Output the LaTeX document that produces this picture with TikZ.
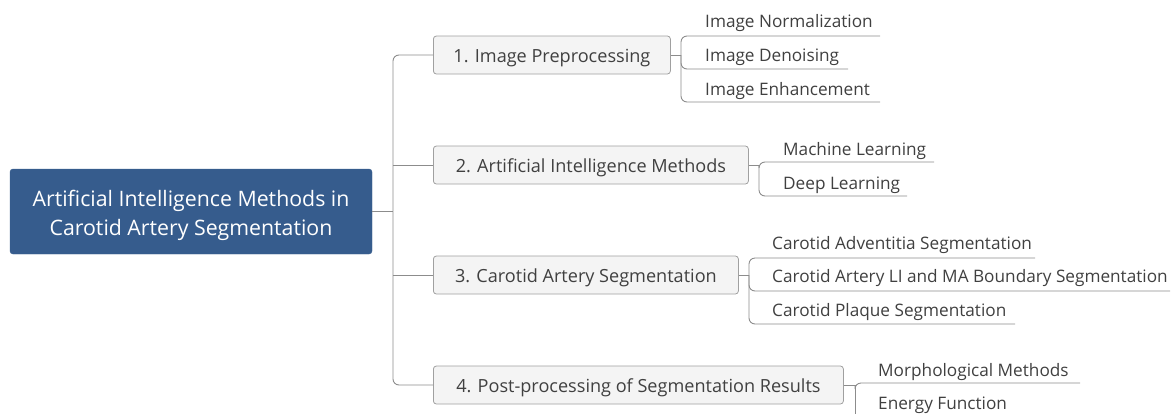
\documentclass[tikz,border=0pt]{standalone}
\usepackage{fontspec}
\setmainfont{Open Sans}
\definecolor{rootblue}{HTML}{365C8D}
\definecolor{boxfill}{HTML}{F4F4F4}
\definecolor{boxline}{HTML}{A0A0A0}
\definecolor{conn}{HTML}{8C8C8C}
\definecolor{txt}{HTML}{404040}
\tikzset{
  rootbox/.style={fill=rootblue, draw=rootblue, rounded corners=3pt, text=white, align=center,
    minimum width=362pt, minimum height=85pt, inner sep=0pt,
    font=\fontsize{21.3}{29}\selectfont},
  branchbox/.style={fill=boxfill, draw=boxline, line width=0.8pt, rounded corners=3pt, text=txt,
    minimum height=38pt, inner sep=0pt, anchor=west, text height=16pt, text depth=2pt,
    font=\fontsize{18.1}{19}\selectfont},
  leaf/.style={text=txt, inner sep=0pt, anchor=base west, font=\fontsize{17.2}{19}\selectfont},
  link/.style={draw=conn, line width=0.9pt},
  curved/.style={link, rounded corners=6pt},
}
\begin{document}
\begin{tikzpicture}[x=1pt,y=-1pt]
\useasboundingbox (0,0) rectangle (1173,413);
% root
\node[rootbox] (root) at (191,211.5) {\rule{0pt}{24pt}Artificial Intelligence Methods in\\Carotid Artery Segmentation};
% branches
\node[branchbox, minimum width=237pt] (b1) at (433,55) {1. Image Preprocessing};
\node[branchbox, minimum width=315pt] (b2) at (433,165) {2. Artificial Intelligence Methods};
\node[branchbox, minimum width=305pt] (b3) at (433,275) {3. Carotid Artery Segmentation};
\node[branchbox, minimum width=410pt] (b4) at (433,385) {4. Post-processing of Segmentation Results};
% trunk
\coordinate (t0) at (393,211.5);
\draw[link] (root.east) -- (t0);
\draw[curved] (t0) |- (b1.west);
\draw[curved] (t0) |- (b4.west);
\draw[link] (393,165) -- (b2.west);
\draw[link] (393,275) -- (b3.west);
% branch 1 leaves
\coordinate (j1) at (681,55);
\draw[link] (b1.east) -- (j1);
\node[leaf] (l11) at (705,27) {Image Normalization};
\node[leaf] (l12) at (705,61) {Image Denoising};
\node[leaf] (l13) at (705,95) {Image Enhancement};
\coordinate (e11) at (880,36);
\coordinate (e12) at (848,69);
\coordinate (e13) at (880,102);
\draw[curved] (j1) |- (e11);
\draw[curved] (j1) |- (e12);
\draw[curved] (j1) |- (e13);
% branch 2 leaves
\coordinate (j2) at (759,165);
\draw[link] (b2.east) -- (j2);
\node[leaf] (l21) at (783,155) {Machine Learning};
\node[leaf] (l22) at (783,189) {Deep Learning};
\coordinate (e21) at (934,162);
\coordinate (e22) at (907,196);
\draw[curved] (j2) |- (e21);
\draw[curved] (j2) |- (e22);
% branch 3 leaves
\coordinate (j3) at (749,275);
\draw[link] (b3.east) -- (j3);
\node[leaf] (l31) at (772,249) {Carotid Adventitia Segmentation};
\node[leaf] (l32) at (772,282) {Carotid Artery LI and MA Boundary Segmentation};
\node[leaf] (l33) at (772,316) {Carotid Plaque Segmentation};
\coordinate (e31) at (1035,258);
\coordinate (e32) at (1170,291);
\coordinate (e33) at (1015,324);
\draw[curved] (j3) |- (e31);
\draw[curved] (j3) |- (e32);
\draw[curved] (j3) |- (e33);
% branch 4 leaves
\coordinate (j4) at (855,385);
\draw[link] (b4.east) -- (j4);
\node[leaf] (l41) at (878,376) {Morphological Methods};
\node[leaf] (l42) at (878,409) {Energy Function};
\coordinate (e41) at (1080,383);
\coordinate (e42) at (855,420);
\draw[curved] (j4) |- (e41);
\draw[link] (j4) -- (e42);
\end{tikzpicture}
\end{document}
